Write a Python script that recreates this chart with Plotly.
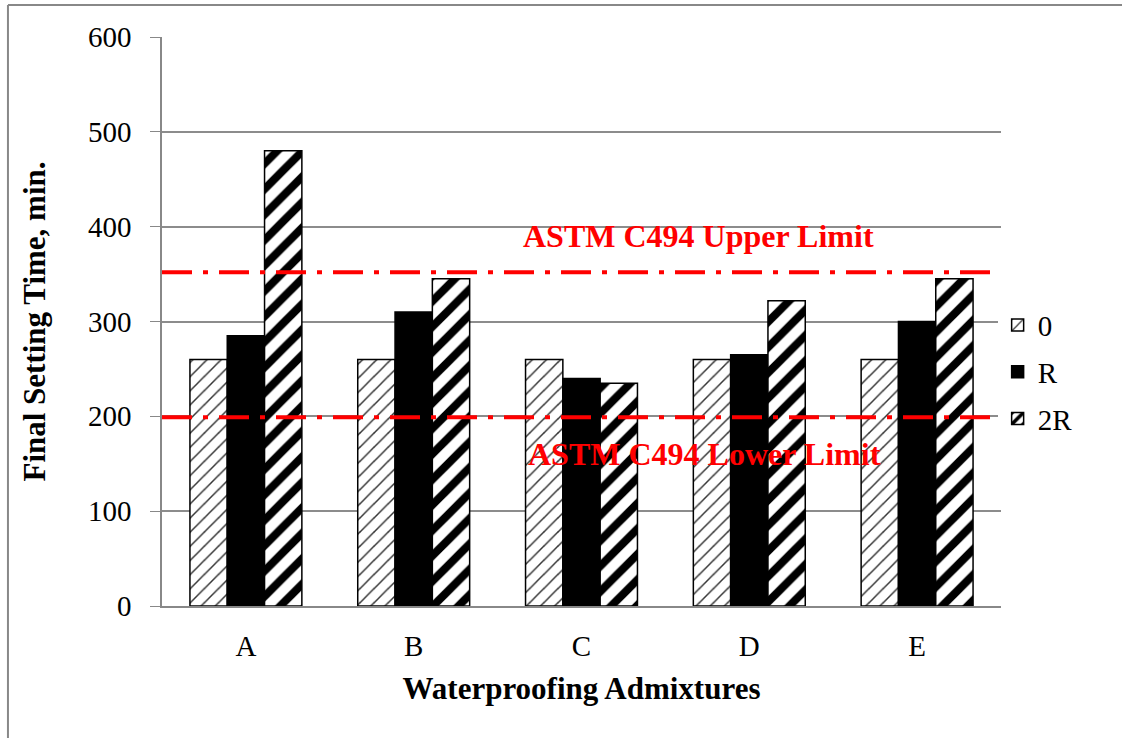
import plotly.graph_objects as go

categories = ["A", "B", "C", "D", "E"]
series_names = ["0", "R", "2R"]
vals_0 = [260, 260, 260, 260, 260]
vals_R = [285, 310, 240, 265, 300]
vals_2R = [480, 345, 235, 322, 345]
upper_limit = 352
lower_limit = 199
y_ticks = [0, 100, 200, 300, 400, 500, 600]

FONT = "Liberation Serif, Times New Roman, serif"

fig = go.Figure()
fig.add_trace(go.Bar(
    name=series_names[0], x=categories, y=vals_0, legendgroup="g0",
    marker=dict(color="white", line=dict(color="black", width=1.5),
                pattern=dict(shape="/", fgcolor="#333", bgcolor="white", size=10, solidity=0.15,
                             fgopacity=1)),
))
fig.add_trace(go.Bar(
    name=series_names[1], x=categories, y=vals_R, legendgroup="g1",
    marker=dict(color="black", line=dict(color="black", width=1.5)),
))
fig.add_trace(go.Bar(
    name=series_names[2], x=categories, y=vals_2R, legendgroup="g2",
    marker=dict(color="white", line=dict(color="black", width=1.5),
                pattern=dict(shape="/", fgcolor="#000000", bgcolor="white", size=18, solidity=0.45,
                             fgopacity=1)),
))

dash = "30px,11px,5px,11px"
for yv in (upper_limit, lower_limit):
    fig.add_shape(type="line", xref="paper", yref="y", x0=0, x1=1, y0=yv, y1=yv,
                  line=dict(color="red", width=4, dash=dash), layer="above")

fig.add_annotation(x=0.639, xref="paper", y=upper_limit, yref="y", yshift=36,
                   text="<b>ASTM C494 Upper Limit</b>", showarrow=False,
                   font=dict(family=FONT, size=32, color="red"))
fig.add_annotation(x=0.647, xref="paper", y=lower_limit, yref="y", yshift=-37,
                   text="<b>ASTM C494 Lower Limit</b>", showarrow=False,
                   font=dict(family=FONT, size=32, color="red"))

# outer chart border (left and top)
fig.add_shape(type="line", xref="paper", yref="paper", x0=-0.1836, x1=-0.1836, y0=-0.24, y1=1.0562,
              line=dict(color="#888", width=2))
fig.add_shape(type="line", xref="paper", yref="paper", x0=-0.1836, x1=1.15, y0=1.0562, y1=1.0562,
              line=dict(color="#888", width=2))

fig.update_layout(
    width=1122, height=738,
    margin=dict(l=162, r=121, t=37, b=132, autoexpand=False),
    paper_bgcolor="white", plot_bgcolor="white",
    barmode="group", bargap=0.333, bargroupgap=0,
    font=dict(family=FONT, size=29, color="black"),
    showlegend=True,
    legend=dict(x=0.996, xanchor="left", y=0.411, yanchor="middle",
                traceorder="grouped", tracegroupgap=6,
                font=dict(family=FONT, size=29), itemwidth=30),
    xaxis=dict(showline=True, linecolor="#888", linewidth=1.5, ticks="", automargin=False,
               tickfont=dict(family=FONT, size=29), ticklabelstandoff=13,
               title=dict(text="<b>Waterproofing Admixtures</b>", standoff=17,
                          font=dict(family=FONT, size=31))),
    yaxis=dict(range=[0, 600], tickvals=y_ticks, showgrid=True, gridcolor="#8c8c8c", gridwidth=1.5,
               showline=True, linecolor="#888", linewidth=1.5, ticks="outside", ticklen=10,
               tickcolor="#888", tickfont=dict(family=FONT, size=29), zeroline=False,
               ticklabelstandoff=13, automargin=False,
               title=dict(text="<b>Final Setting Time, min.</b>", standoff=33,
                          font=dict(family=FONT, size=31))),
)

fig.write_html("out.html", config={"displayModeBar": False},
               post_script="document.body.style.margin='0px';")
